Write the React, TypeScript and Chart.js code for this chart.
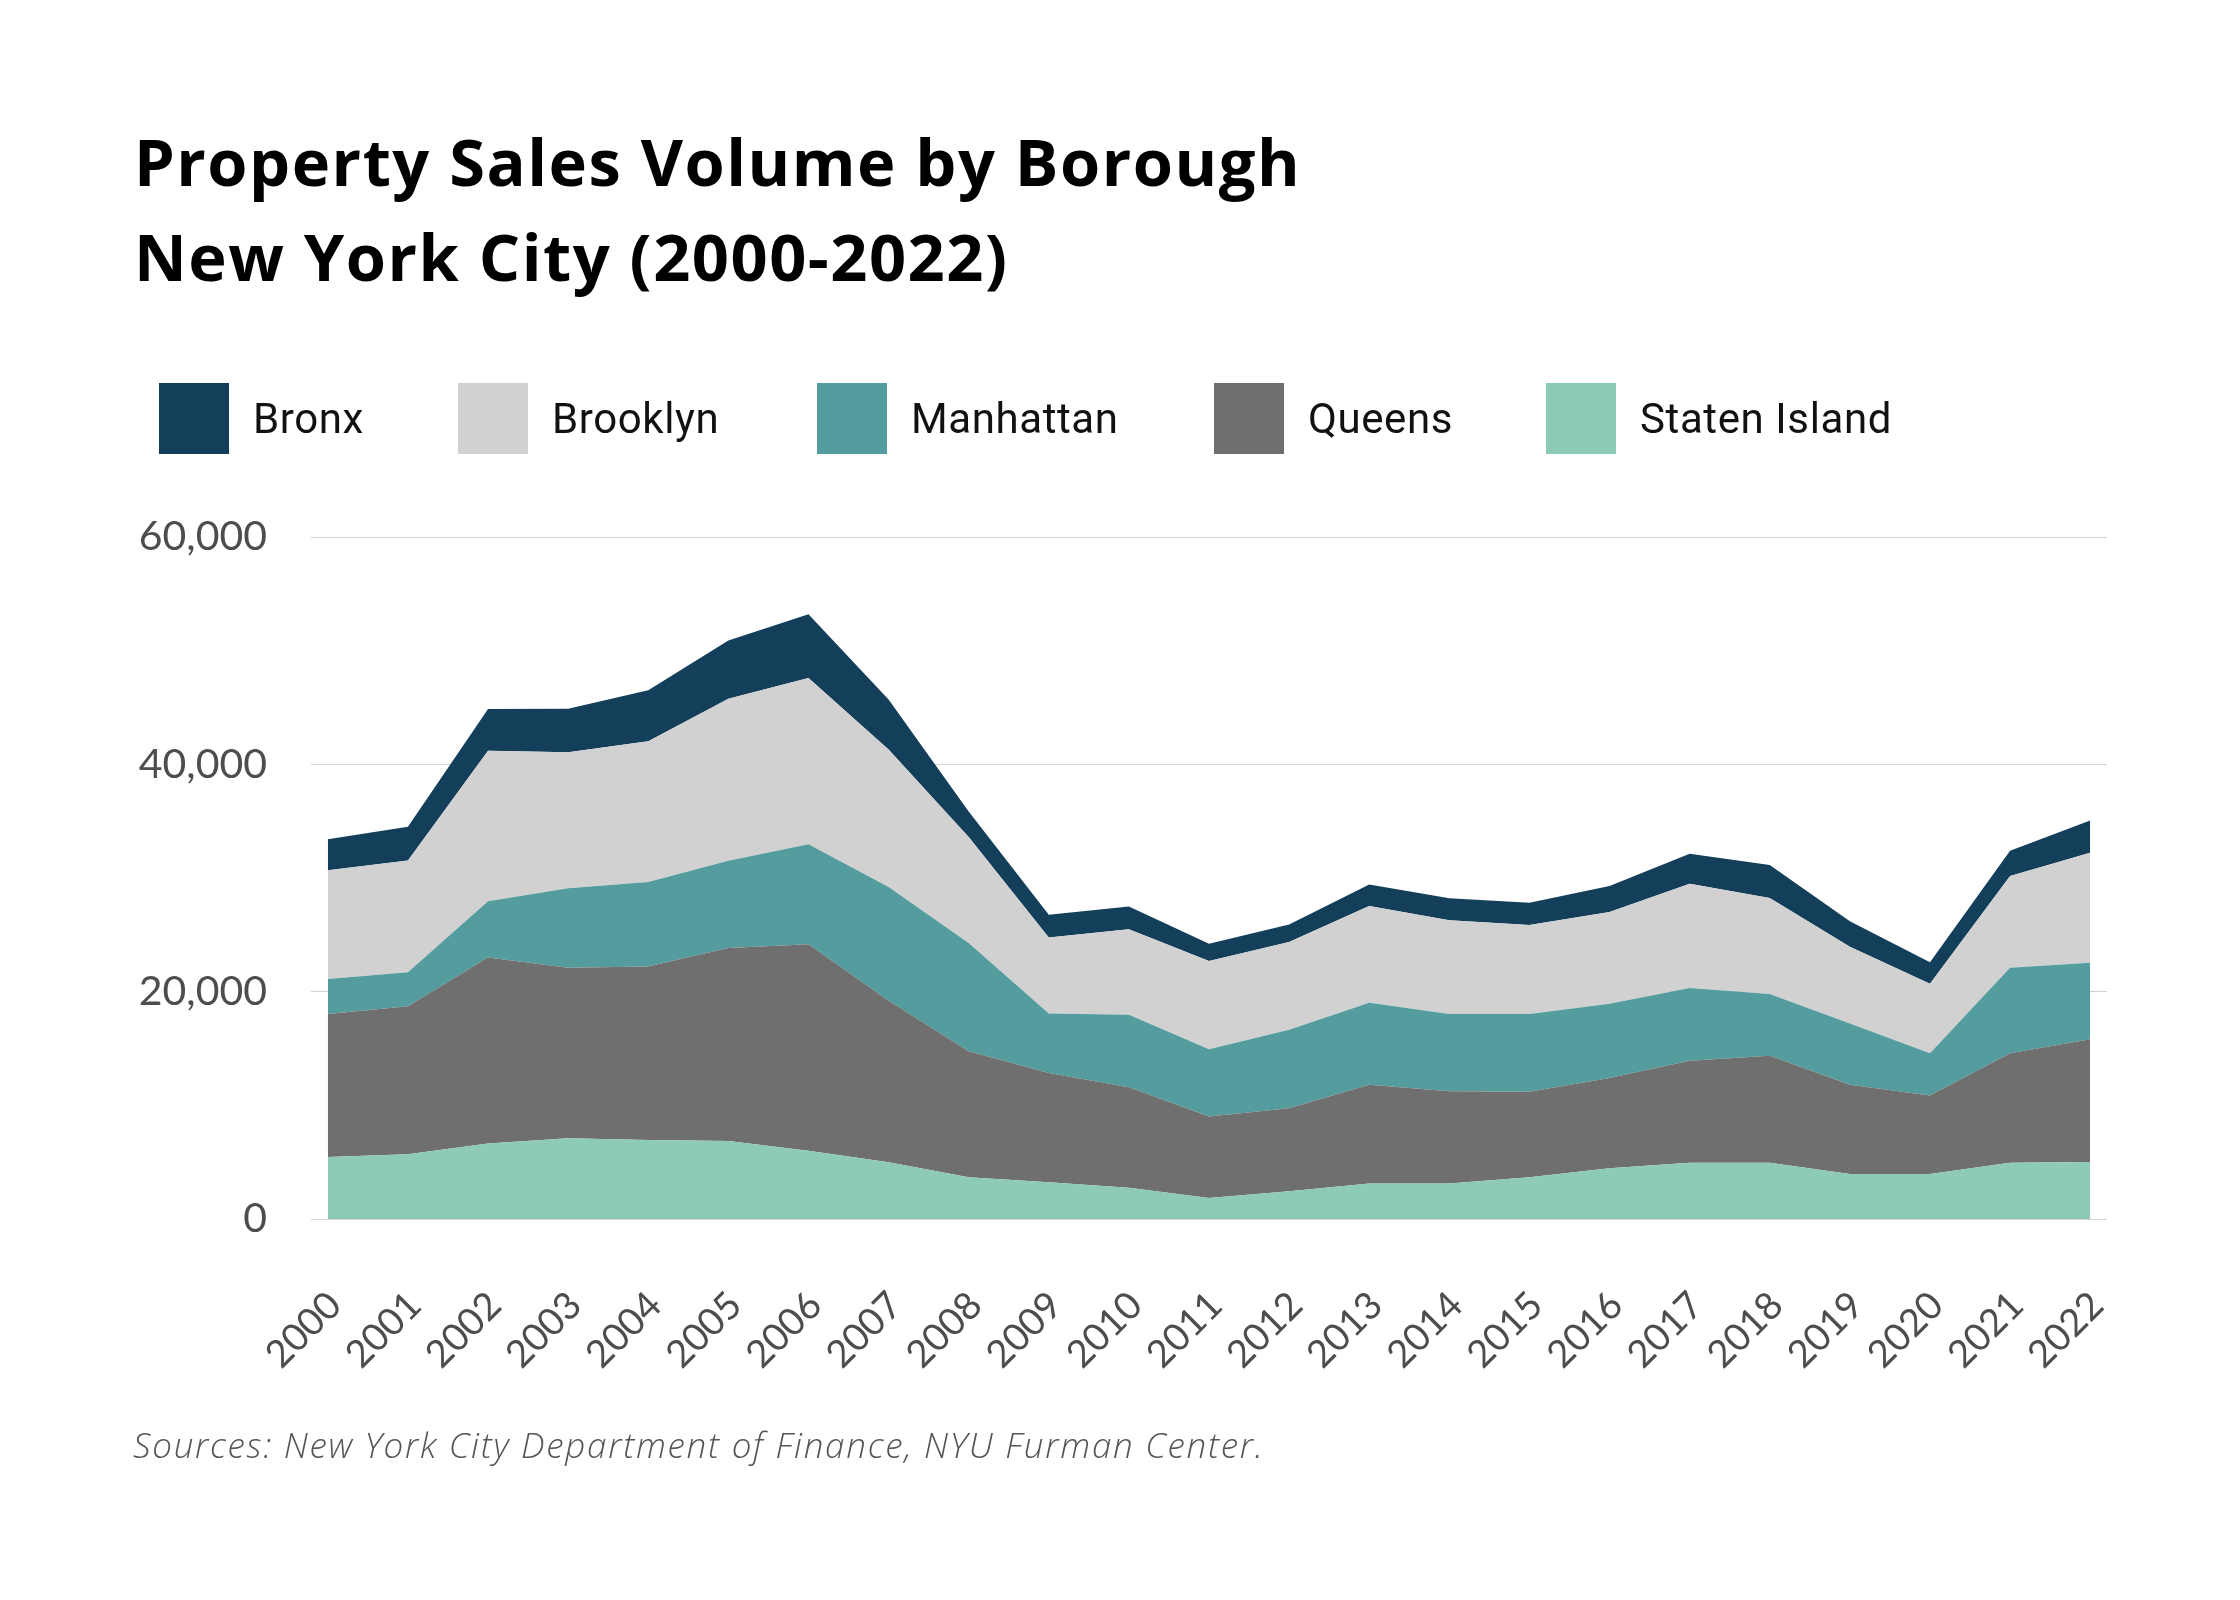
import React, { useEffect, useRef } from "react";
import { Chart, registerables } from "chart.js";

Chart.register(...registerables);

const years = [2000, 2001, 2002, 2003, 2004, 2005, 2006, 2007, 2008, 2009, 2010, 2011, 2012, 2013, 2014, 2015, 2016, 2017, 2018, 2019, 2020, 2021, 2022];

const statenIsland = [5450, 5700, 6650, 7100, 6950, 6870, 6000, 5000, 3670, 3240, 2760, 1850, 2440, 3130, 3130, 3670, 4470, 4950, 4950, 3960, 3960, 4950, 5020];
const queens = [12580, 13020, 16360, 15000, 15270, 16980, 18180, 14200, 11090, 9600, 8840, 7160, 7300, 8690, 8110, 7530, 7930, 8980, 9420, 7850, 6910, 9630, 10800];
const manhattan = [3090, 2980, 4950, 7000, 7420, 7670, 8800, 10000, 9530, 5240, 6360, 5930, 6910, 7200, 6800, 6840, 6540, 6400, 5420, 5380, 3710, 7530, 6730];
const brooklyn = [9565, 9850, 13235, 11960, 12400, 14250, 14620, 12100, 9310, 6690, 7530, 7750, 7710, 8510, 8250, 7820, 8070, 9160, 8440, 6760, 6110, 8070, 9670];
const bronx = [2725, 2950, 3670, 3820, 4470, 5130, 5600, 4400, 2250, 2000, 2000, 1530, 1560, 1890, 1930, 1960, 2290, 2650, 2910, 2250, 1890, 2220, 2840];

const yTicks = [0, 20000, 40000, 60000];

const series = [
  { label: "Staten Island", values: statenIsland, color: "#8ecab8" },
  { label: "Queens", values: queens, color: "#6f6f6f" },
  { label: "Manhattan", values: manhattan, color: "#549c9e" },
  { label: "Brooklyn", values: brooklyn, color: "#d1d1d1" },
  { label: "Bronx", values: bronx, color: "#143f5a" },
];

const legendOrder = ["Bronx", "Brooklyn", "Manhattan", "Queens", "Staten Island"];
const legendWidths = [299, 359, 397, 332, 320];

export default function App() {
  const canvasRef = useRef<HTMLCanvasElement | null>(null);

  useEffect(() => {
    const canvas = canvasRef.current;
    if (!canvas) return;
    const chart = new Chart(canvas, {
      type: "line",
      data: {
        datasets: series.map((s, i) => ({
          label: s.label,
          data: years.map((yr, j) => ({ x: yr, y: s.values[j] })),
          backgroundColor: s.color,
          borderColor: s.color,
          borderWidth: 0,
          pointRadius: 0,
          tension: 0,
          fill: i === 0 ? "origin" : "-1",
        })),
      },
      options: {
        animation: false,
        responsive: false,
        devicePixelRatio: 1,
        layout: { padding: { top: 537, right: 133, bottom: 0, left: 0 } },
        plugins: {
          legend: { display: false },
          tooltip: { enabled: false },
          title: { display: false },
        },
        scales: {
          x: {
            type: "linear",
            min: years[0] - 0.21,
            max: years[years.length - 1] + 0.21,
            afterBuildTicks: (scale: any) => {
              scale.ticks = years.map((v) => ({ value: v }));
            },
            afterFit: (scale: any) => {
              scale.height = 1600 - 1219;
            },
            grid: { display: false, drawTicks: false },
            border: { display: false },
            ticks: {
              autoSkip: false,
              maxRotation: 45,
              minRotation: 45,
              padding: 64,
              labelOffset: 7,
              color: "#4d4d4d",
              font: { family: "Lato", size: 38 },
              callback: (v: any) => String(v),
            },
          },
          y: {
            stacked: true,
            min: 0,
            max: 60000,
            afterBuildTicks: (scale: any) => {
              scale.ticks = yTicks.map((v) => ({ value: v }));
            },
            afterFit: (scale: any) => {
              scale.width = 311;
            },
            grid: { color: "#d3d3d3", lineWidth: 1, drawTicks: false },
            border: { display: false },
            ticks: {
              padding: 44,
              color: "#4d4d4d",
              font: { family: "Lato", size: 41 },
              callback: (v: any) => Number(v).toLocaleString("en-US"),
            },
          },
        },
      },
    });
    return () => chart.destroy();
  }, []);

  return (
    <div style={{ position: "absolute", left: 0, top: 0, width: 2240, height: 1600, background: "#fff", overflow: "hidden" }}>
      <canvas ref={canvasRef} width={2240} height={1600} style={{ position: "absolute", left: 0, top: 0, width: 2240, height: 1600 }} />
      <div
        style={{
          position: "absolute",
          left: 134,
          top: 114,
          fontFamily: "'Open Sans', Roboto, sans-serif",
          fontWeight: 700,
          fontSize: 65,
          lineHeight: "95px",
          letterSpacing: "1.5px",
          color: "#000",
          whiteSpace: "nowrap",
        }}
      >
        <div>Property Sales Volume by Borough</div>
        <div>New York City (2000-2022)</div>
      </div>
      <div style={{ position: "absolute", left: 159, top: 383, height: 71, display: "flex", alignItems: "center" }}>
        {legendOrder.map((name, i) => {
          const s = series.find((d) => d.label === name)!;
          return (
            <div key={name} style={{ display: "flex", alignItems: "center", width: legendWidths[i], flex: "none" }}>
              <div style={{ width: 70, height: 71, background: s.color, flex: "none" }} />
              <span style={{ marginLeft: 24, fontFamily: "Roboto, sans-serif", fontSize: 42, letterSpacing: "0.6px", color: "#111", whiteSpace: "nowrap" }}>{name}</span>
            </div>
          );
        })}
      </div>
      <div
        style={{
          position: "absolute",
          left: 133,
          top: 1421,
          fontFamily: "'Open Sans', Lato, sans-serif",
          fontStyle: "italic",
          fontWeight: 300,
          fontSize: 35,
          letterSpacing: "1.7px",
          color: "#555",
          whiteSpace: "nowrap",
        }}
      >
        Sources: New York City Department of Finance, NYU Furman Center.
      </div>
    </div>
  );
}
